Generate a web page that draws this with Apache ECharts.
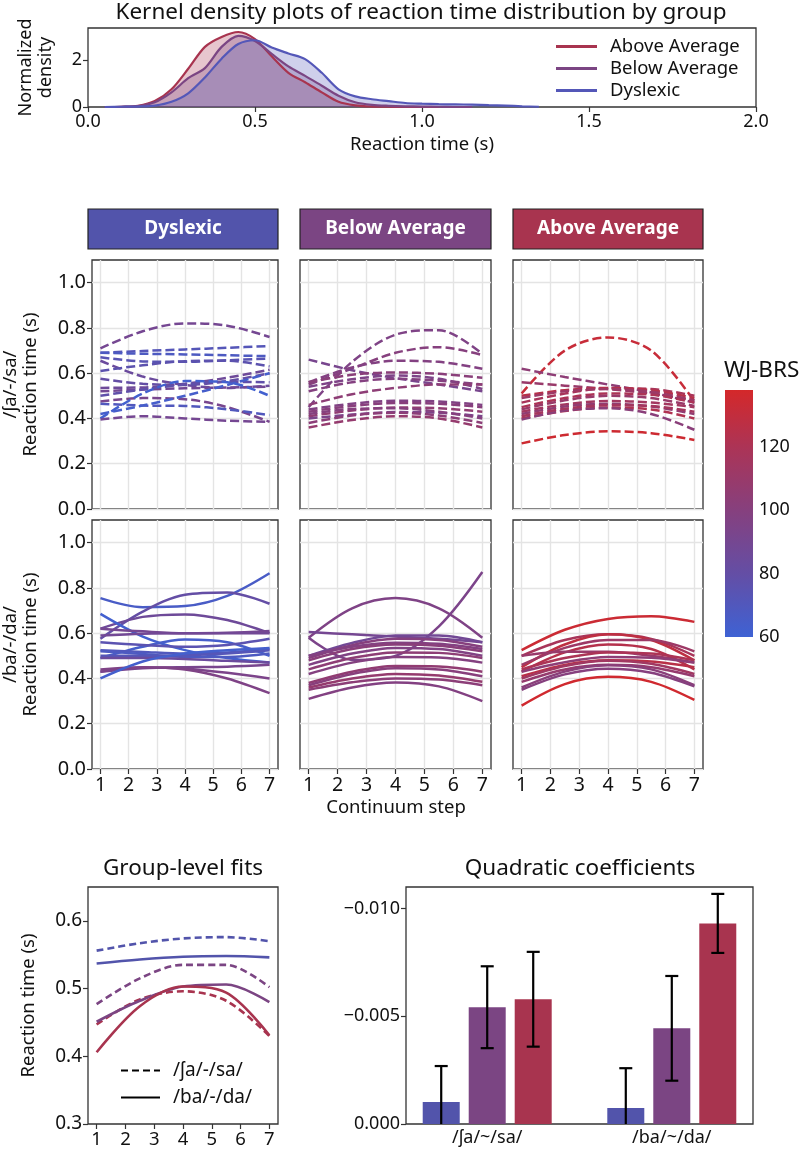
<!DOCTYPE html>
<html><head><meta charset="utf-8">
<script src="https://cdn.jsdelivr.net/npm/echarts@6/dist/echarts.min.js"></script>
<style>html,body{margin:0;padding:0;background:#fff}#c{width:800px;height:1150px}</style>
</head><body><div id="c"></div>
<script>
// ================= DATA =================
const groups = ['Dyslexic', 'Below Average', 'Above Average'];
const continua = ['/ʃa/-/sa/', '/ba/-/da/'];
const barCats = ['/ʃa/~/sa/', '/ba/~/da/'];

// Kernel density estimates
const kdeX = [0.05,0.10,0.15,0.20,0.25,0.30,0.35,0.40,0.45,0.50,0.55,0.60,0.65,0.70,0.75,0.80,0.85,0.90,0.95,1.00,1.05,1.10,1.15,1.20,1.25,1.30,1.35];
const kdeAbove    = [0,0.01,0.05,0.25,0.75,1.62,2.55,2.97,3.18,2.88,2.15,1.45,1.05,0.62,0.22,0.07,0.02,0.01,0,0,0];
const kdeBelow    = [0,0.01,0.04,0.20,0.62,1.22,1.65,2.55,3.02,2.80,2.25,1.72,1.32,0.90,0.48,0.20,0.09,0.05,0.03,0.02,0.01,0,0];
const kdeDyslexic = [0,0.01,0.02,0.06,0.22,0.58,1.25,2.05,2.67,2.83,2.52,2.27,2.03,1.45,0.75,0.45,0.33,0.25,0.17,0.14,0.12,0.11,0.10,0.08,0.06,0.03,0.01];
const kdeXTicks = [0, 0.5, 1.0, 1.5, 2.0];
const kdeYTicks = [0, 2];

// Individual quadratic fits, values read at these continuum steps
const steps = [1, 2.5, 4, 5.5, 7];
const stepTicks = [1, 2, 3, 4, 5, 6, 7];
const rtTicks = [0, 0.2, 0.4, 0.6, 0.8, 1.0];

const dysSh = [
  [0.71,0.785,0.82,0.81,0.76],[0.69,0.698,0.705,0.712,0.72],[0.69,0.686,0.683,0.679,0.675],
  [0.67,0.652,0.65,0.657,0.665],[0.655,0.585,0.548,0.535,0.545],[0.61,0.635,0.653,0.655,0.63],
  [0.575,0.553,0.548,0.565,0.60],[0.535,0.537,0.553,0.58,0.615],[0.52,0.528,0.533,0.537,0.54],
  [0.50,0.528,0.55,0.562,0.56],[0.475,0.49,0.485,0.45,0.385],[0.465,0.457,0.455,0.44,0.415],
  [0.42,0.457,0.50,0.548,0.60],[0.40,0.51,0.565,0.56,0.50],[0.395,0.41,0.40,0.39,0.385]
];
const dysShScore = [90,72,68,74,84,76,80,86,88,78,92,70,64,62,90];

const belSh = [
  [0.45,0.65,0.77,0.79,0.685],[0.55,0.62,0.69,0.715,0.68],[0.66,0.613,0.578,0.55,0.52],
  [0.56,0.625,0.655,0.65,0.62],[0.56,0.593,0.603,0.597,0.58],[0.54,0.573,0.59,0.575,0.53],
  [0.52,0.56,0.575,0.567,0.55],[0.46,0.507,0.535,0.55,0.55],[0.44,0.465,0.478,0.475,0.46],
  [0.43,0.455,0.468,0.465,0.45],[0.41,0.435,0.448,0.445,0.43],[0.40,0.417,0.428,0.425,0.41],
  [0.38,0.413,0.425,0.413,0.38],[0.36,0.393,0.41,0.40,0.36],[0.42,0.442,0.445,0.43,0.40]
];
const belShScore = [96,100,92,98,102,95,99,104,97,101,106,94,103,108,100];

const aboSh = [
  [0.51,0.70,0.758,0.70,0.475],[0.62,0.583,0.55,0.515,0.47],[0.56,0.545,0.53,0.51,0.48],
  [0.47,0.51,0.533,0.53,0.50],[0.50,0.525,0.535,0.525,0.49],[0.49,0.52,0.53,0.518,0.48],
  [0.45,0.49,0.51,0.505,0.47],[0.44,0.48,0.50,0.49,0.455],[0.43,0.462,0.477,0.47,0.45],
  [0.42,0.453,0.465,0.453,0.42],[0.40,0.433,0.448,0.44,0.40],[0.395,0.435,0.445,0.42,0.35],
  [0.41,0.443,0.458,0.455,0.43],[0.29,0.327,0.343,0.335,0.305]
];
const aboShScore = [132,104,110,118,125,112,120,110,115,106,122,102,116,135];

const dysBa = [
  [0.755,0.715,0.72,0.765,0.865],[0.575,0.695,0.77,0.78,0.73],[0.62,0.672,0.683,0.658,0.60],
  [0.685,0.585,0.525,0.49,0.47],[0.62,0.608,0.60,0.602,0.61],[0.59,0.598,0.60,0.60,0.60],
  [0.49,0.54,0.572,0.56,0.50],[0.525,0.517,0.51,0.515,0.53],[0.52,0.508,0.495,0.495,0.51],
  [0.50,0.50,0.502,0.51,0.525],[0.49,0.49,0.486,0.478,0.47],[0.43,0.445,0.45,0.452,0.46],
  [0.43,0.448,0.443,0.425,0.40],[0.44,0.45,0.44,0.40,0.335],[0.40,0.475,0.51,0.525,0.535],
  [0.56,0.548,0.54,0.548,0.575]
];
const dysBaScore = [66,80,86,62,90,88,64,70,68,72,84,92,94,96,63,75];

const belBa = [
  [0.58,0.71,0.755,0.71,0.58],[0.58,0.482,0.50,0.63,0.87],[0.605,0.595,0.585,0.575,0.56],
  [0.50,0.557,0.59,0.59,0.56],[0.49,0.547,0.575,0.57,0.54],[0.50,0.54,0.558,0.553,0.53],
  [0.48,0.53,0.55,0.545,0.52],[0.46,0.51,0.535,0.53,0.50],[0.44,0.49,0.515,0.513,0.49],
  [0.42,0.47,0.495,0.493,0.47],[0.38,0.43,0.455,0.453,0.43],[0.37,0.42,0.445,0.44,0.41],
  [0.36,0.40,0.42,0.413,0.385],[0.35,0.383,0.40,0.395,0.37],[0.31,0.36,0.382,0.365,0.30]
];
const belBaScore = [96,94,90,88,100,98,102,97,104,99,106,101,108,103,98];

const aboBa = [
  [0.525,0.615,0.663,0.675,0.65],[0.50,0.57,0.595,0.575,0.50],[0.45,0.55,0.595,0.57,0.48],
  [0.46,0.535,0.57,0.57,0.52],[0.43,0.515,0.55,0.53,0.44],[0.50,0.518,0.518,0.50,0.47],
  [0.44,0.49,0.515,0.51,0.48],[0.43,0.472,0.495,0.492,0.47],[0.41,0.46,0.48,0.475,0.45],
  [0.40,0.455,0.478,0.465,0.42],[0.385,0.44,0.46,0.45,0.41],[0.36,0.43,0.458,0.44,0.37],
  [0.35,0.418,0.443,0.425,0.365],[0.28,0.375,0.407,0.385,0.305]
];
const aboBaScore = [134,118,128,112,124,110,120,104,126,114,108,102,100,136];

// Colour bar
const cbRange = [60, 138];
const cbTicks = [60, 80, 100, 120];

// Group-level fits (values at steps)
const fitShDys = [0.556,0.567,0.574,0.576,0.570];
const fitShBel = [0.477,0.515,0.535,0.535,0.502];
const fitShAbo = [0.447,0.484,0.496,0.482,0.430];
const fitBaDys = [0.537,0.543,0.547,0.548,0.546];
const fitBaBel = [0.451,0.482,0.503,0.506,0.480];
const fitBaAbo = [0.406,0.474,0.503,0.494,0.431];
const fitYTicks = [0.3, 0.4, 0.5, 0.6];

// Quadratic coefficients (per continuum) and errors
const barPos = [0, 1];
const coefDys = [-0.00102, -0.00074];
const coefBel = [-0.00542, -0.00444];
const coefAbo = [-0.00579, -0.00931];
const errDys = [0.00167, 0.00185];
const errBel = [0.00190, 0.00243];
const errAbo = [0.00220, 0.00137];
const coefTicks = [0, -0.005, -0.010];

// ================= STYLE =================
const FONT = '"Noto Sans", sans-serif';
const AX = '#333';
const TXT = '#111';
const groupColors = ['#5254ab', '#7b4583', '#a8344f'];
const kdeColors = {Dyslexic: '#5457b8', 'Below Average': '#7b4583', 'Above Average': '#a8344f'};
const cmapStops = [[60,[62,98,212]],[80,[100,78,165]],[100,[134,64,126]],[120,[172,52,86]],[138,[212,40,42]]];
function cmap(v) {
  for (let i = 0; i < cmapStops.length - 1; i++) {
    const a = cmapStops[i][0], ca = cmapStops[i][1], b = cmapStops[i+1][0], cb = cmapStops[i+1][1];
    if (v <= b || i === cmapStops.length - 2) {
      const t = Math.max(0, Math.min(1, (v - a) / (b - a)));
      return 'rgb(' + ca.map((c, k) => Math.round(c + (cb[k] - c) * t)).join(',') + ')';
    }
  }
}
const SMOOTH = 0.33;

const grids = [], xAxes = [], yAxes = [], series = [], graphics = [];
const gridBox = {show: true, borderColor: AX, borderWidth: 1.3, backgroundColor: 'transparent'};
const lbl = (fs) => ({color: TXT, fontSize: fs, fontFamily: FONT});
const tick = (vals, show) => ({show: show !== false, customValues: vals, length: 5, lineStyle: {color: AX, width: 1.2}});
const noLine = {show: false, onZero: false};

// ---- KDE (grid 0)
grids.push(Object.assign({left: 88, top: 28, width: 668, height: 79}, gridBox));
xAxes.push({gridIndex: 0, type: 'value', min: 0, max: 2,
  axisLine: noLine, splitLine: {show: false}, axisTick: tick(kdeXTicks),
  axisLabel: Object.assign({customValues: kdeXTicks, formatter: v => v.toFixed(1), margin: 6}, lbl(18)),
  name: 'Reaction time (s)', nameLocation: 'middle', nameGap: 28, nameTextStyle: lbl(18.5)});
yAxes.push({gridIndex: 0, type: 'value', min: 0, max: 3.35,
  axisLine: noLine, splitLine: {show: false}, axisTick: tick(kdeYTicks),
  axisLabel: Object.assign({customValues: kdeYTicks, margin: 6}, lbl(18)),
  name: 'Normalized\ndensity', nameLocation: 'middle', nameGap: 32, nameRotate: 90,
  nameTextStyle: Object.assign({lineHeight: 20}, lbl(18))});
[['Above Average', kdeAbove], ['Below Average', kdeBelow], ['Dyslexic', kdeDyslexic]].forEach(([name, vals]) => {
  series.push({type: 'line', name, xAxisIndex: 0, yAxisIndex: 0, symbol: 'none', smooth: 0.3,
    data: vals.map((d, i) => [kdeX[i], d]),
    lineStyle: {color: kdeColors[name], width: 2.2}, itemStyle: {color: kdeColors[name]},
    areaStyle: {color: kdeColors[name], opacity: 0.28}});
});

// ---- Facets (grids 1..6)
const colX = [88, 300, 513], colW = [190, 191, 190];
const rowY = [260, 520], rowH = 249;
const panels = [
  [dysSh, dysShScore, 0, 0], [belSh, belShScore, 0, 1], [aboSh, aboShScore, 0, 2],
  [dysBa, dysBaScore, 1, 0], [belBa, belBaScore, 1, 1], [aboBa, aboBaScore, 1, 2]
];
panels.forEach(([lines, scores, r, c], pi) => {
  const gi = 1 + pi;
  grids.push(Object.assign({left: colX[c], top: rowY[r], width: colW[c], height: rowH}, gridBox));
  xAxes.push({gridIndex: gi, type: 'value', min: 0.7, max: 7.3,
    axisLine: noLine,
    splitLine: {show: true, lineStyle: {color: '#e4e4e4', width: 1.4}},
    axisTick: tick(stepTicks, r === 1),
    axisLabel: Object.assign({show: r === 1, customValues: stepTicks, margin: 6}, lbl(19.5))});
  yAxes.push({gridIndex: gi, type: 'value', min: 0, max: 1.1,
    axisLine: noLine,
    splitLine: {show: true, lineStyle: {color: '#e4e4e4', width: 1.4}},
    axisTick: tick(rtTicks, c === 0),
    axisLabel: Object.assign({show: c === 0, customValues: rtTicks, formatter: v => v.toFixed(1), margin: 6}, lbl(20)),
    name: c === 0 ? continua[r] + '\nReaction time (s)' : '', nameLocation: 'middle', nameGap: 51, nameRotate: 90,
    nameTextStyle: Object.assign({lineHeight: 20}, lbl(18.5))});
  lines.forEach((vals, li) => {
    series.push({type: 'line', xAxisIndex: gi, yAxisIndex: gi, symbol: 'none', smooth: SMOOTH, silent: true,
      data: steps.map((s, i) => [s, vals[i]]),
      lineStyle: {color: cmap(scores[li]), width: 2.5, type: r === 0 ? [9, 4] : 'solid'}});
  });
});
// strip headers
groups.forEach((g, c) => {
  graphics.push({type: 'rect', shape: {x: colX[c], y: 209, width: colW[c], height: 40},
    style: {fill: groupColors[c], stroke: '#222', lineWidth: 1.2}});
  graphics.push({type: 'text', x: colX[c] + colW[c] / 2, y: 229,
    style: {text: g, fill: '#fff', fontSize: 19, fontWeight: 'bold', fontFamily: FONT, align: 'center', verticalAlign: 'middle'}});
});
graphics.push({type: 'text', x: 396, y: 808,
  style: {text: 'Continuum step', fill: TXT, fontSize: 18.5, fontFamily: FONT, align: 'center', verticalAlign: 'middle'}});

// ---- Colour bar (grid 7)
grids.push({left: 725, top: 390, width: 28, height: 247});
xAxes.push({gridIndex: 7, type: 'category', data: ['cb'], show: false});
yAxes.push({gridIndex: 7, type: 'value', min: cbRange[0], max: cbRange[1], position: 'right',
  axisLine: noLine, splitLine: {show: false},
  axisTick: {customValues: cbTicks, inside: true, length: 5, lineStyle: {color: '#fff', width: 1.2}},
  axisLabel: Object.assign({customValues: cbTicks, margin: 6}, lbl(18))});
const cbGradStops = cmapStops.slice().reverse().map(([v, c]) => ({offset: (cbRange[1] - v) / (cbRange[1] - cbRange[0]), color: 'rgb(' + c.join(',') + ')'}));
series.push({type: 'bar', xAxisIndex: 7, yAxisIndex: 7, stack: 'cb', barWidth: '100%', silent: true,
  data: [cbRange[0]], itemStyle: {color: 'rgba(0,0,0,0)'}});
series.push({type: 'bar', xAxisIndex: 7, yAxisIndex: 7, stack: 'cb', barWidth: '100%', silent: true,
  data: [cbRange[1] - cbRange[0]],
  itemStyle: {color: new echarts.graphic.LinearGradient(0, 0, 0, 1, cbGradStops)}});
graphics.push({type: 'text', x: 724, y: 371,
  style: {text: 'WJ-BRS', fill: TXT, fontSize: 22.5, fontFamily: FONT, align: 'left', verticalAlign: 'middle'}});

// ---- Group-level fits (grid 8)
grids.push(Object.assign({left: 88, top: 887, width: 190, height: 237}, gridBox));
xAxes.push({gridIndex: 8, type: 'value', min: 0.7, max: 7.3,
  axisLine: noLine, splitLine: {show: false}, axisTick: tick(stepTicks),
  axisLabel: Object.assign({customValues: stepTicks, margin: 6}, lbl(18.5))});
yAxes.push({gridIndex: 8, type: 'value', min: 0.3, max: 0.65,
  axisLine: noLine, splitLine: {show: false}, axisTick: tick(fitYTicks),
  axisLabel: Object.assign({customValues: fitYTicks, formatter: v => v.toFixed(1), margin: 6}, lbl(19)),
  name: 'Reaction time (s)', nameLocation: 'middle', nameGap: 50, nameRotate: 90, nameTextStyle: lbl(18.5)});
[[fitShDys, 0, 1], [fitShBel, 1, 1], [fitShAbo, 2, 1], [fitBaDys, 0, 0], [fitBaBel, 1, 0], [fitBaAbo, 2, 0]].forEach(([vals, g, dashed]) => {
  series.push({type: 'line', xAxisIndex: 8, yAxisIndex: 8, symbol: 'none', smooth: SMOOTH, silent: true,
    data: steps.map((s, i) => [s, vals[i]]),
    lineStyle: {color: groupColors[g], width: 2.6, type: dashed ? [7, 4] : 'solid'}});
});
continua.forEach((nm, k) => {
  series.push({type: 'line', name: nm, xAxisIndex: 8, yAxisIndex: 8, symbol: 'none', data: [],
    lineStyle: {color: '#000', width: 2.6, type: k === 0 ? [7, 4] : 'solid'}, itemStyle: {color: '#000'}});
});

// ---- Quadratic coefficients (grid 9)
grids.push(Object.assign({left: 406, top: 887, width: 347, height: 237}, gridBox));
xAxes.push({gridIndex: 9, type: 'value', min: -0.44, max: 1.44,
  axisLine: noLine, splitLine: {show: false},
  axisTick: {show: false, customValues: barPos},
  axisLabel: Object.assign({customValues: barPos, formatter: v => barCats[Math.round(v)], margin: 5}, lbl(18))});
yAxes.push({gridIndex: 9, type: 'value', min: -0.011, max: 0, inverse: true,
  axisLine: noLine, splitLine: {show: false}, axisTick: tick(coefTicks),
  axisLabel: Object.assign({customValues: coefTicks, margin: 6,
    formatter: v => (v < -1e-9 ? '\u2212' : '') + Math.abs(v).toFixed(3)}, lbl(18))});
const BW = 37, BG = 9;
[[coefDys, errDys], [coefBel, errBel], [coefAbo, errAbo]].forEach(([vals, errs], k) => {
  series.push({type: 'bar', xAxisIndex: 9, yAxisIndex: 9, barWidth: BW, barGap: (BG / BW * 100).toFixed(1) + '%',
    silent: true, data: barPos.map((x, i) => [x, vals[i]]), itemStyle: {color: groupColors[k]}});
});
[[coefDys, errDys], [coefBel, errBel], [coefAbo, errAbo]].forEach(([vals, errs], k) => {
  const off = (k - 1) * (BW + BG);
  series.push({type: 'custom', xAxisIndex: 9, yAxisIndex: 9, z: 10, silent: true,
    encode: {x: 0, y: 1},
    data: barPos.map((x, i) => [x, vals[i], errs[i]]),
    renderItem: (params, api) => {
      const cs = params.coordSys;
      const x = api.value(0), v = api.value(1), e = api.value(2);
      const p1 = api.coord([x, v - e]), p2 = api.coord([x, v + e]);
      const yTop = Math.max(cs.y, p1[1]);
      const yBot = Math.min(cs.y + cs.height, p2[1]);
      const cx = p1[0] + off, cap = 6.5;
      const st = {stroke: '#000', lineWidth: 2.2};
      const kids = [{type: 'line', shape: {x1: cx, y1: yTop, x2: cx, y2: yBot}, style: st}];
      if (p1[1] >= cs.y) kids.push({type: 'line', shape: {x1: cx - cap, y1: p1[1], x2: cx + cap, y2: p1[1]}, style: st});
      if (p2[1] <= cs.y + cs.height) kids.push({type: 'line', shape: {x1: cx - cap, y1: p2[1], x2: cx + cap, y2: p2[1]}, style: st});
      return {type: 'group', children: kids};
    }});
});

// ---- titles
graphics.push({type: 'text', x: 421, y: 13,
  style: {text: 'Kernel density plots of reaction time distribution by group', fill: TXT, fontSize: 22.5, fontFamily: FONT, align: 'center', verticalAlign: 'middle'}});
graphics.push({type: 'text', x: 183, y: 869,
  style: {text: 'Group-level fits', fill: TXT, fontSize: 22.5, fontFamily: FONT, align: 'center', verticalAlign: 'middle'}});
graphics.push({type: 'text', x: 580, y: 869,
  style: {text: 'Quadratic coefficients', fill: TXT, fontSize: 22.5, fontFamily: FONT, align: 'center', verticalAlign: 'middle'}});

const option = {
  animation: false,
  backgroundColor: '#fff',
  textStyle: {fontFamily: FONT},
  grid: grids, xAxis: xAxes, yAxis: yAxes, series,
  legend: [
    {data: ['Above Average', 'Below Average', 'Dyslexic'], orient: 'vertical', left: 551, top: 32,
      itemWidth: 41, itemHeight: 3, icon: 'rect', itemGap: 3,
      textStyle: Object.assign({padding: [0, 0, 0, 8]}, lbl(18.5)), selectedMode: false},
    {data: continua, orient: 'vertical', left: 115, top: 1056, itemWidth: 39, itemHeight: 14, itemGap: 8,
      itemStyle: {color: 'rgba(0,0,0,0)', borderWidth: 0, opacity: 0},
      textStyle: Object.assign({padding: [0, 0, 0, 8]}, lbl(19)), selectedMode: false}
  ],
  graphic: graphics
};
const chart = echarts.init(document.getElementById('c'), null, {renderer: 'canvas'});
chart.setOption(option);
</script></body></html>
